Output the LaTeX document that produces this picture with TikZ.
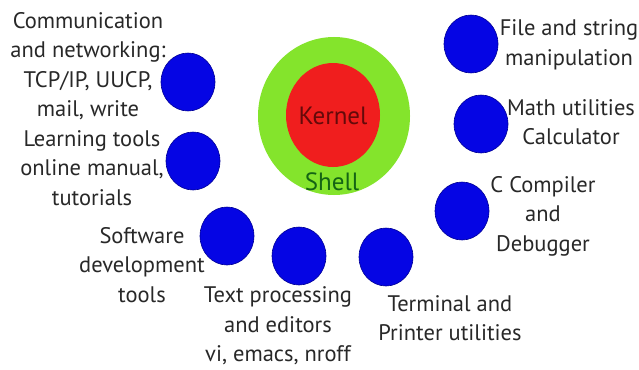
\documentclass[tikz,border=0pt]{standalone}
\usepackage{fontspec}
\setmainfont{PT Sans}
\usetikzlibrary{shapes.geometric}
\definecolor{bluedot}{RGB}{5,5,228}
\definecolor{bluerim}{RGB}{0,0,150}
\definecolor{shellgreen}{RGB}{132,228,44}
\definecolor{kernelred}{RGB}{240,30,30}
\definecolor{txt}{RGB}{40,40,40}
\definecolor{kerneltxt}{RGB}{100,10,10}
\definecolor{shelltxt}{RGB}{20,100,20}
\begin{document}
\begin{tikzpicture}[x=1pt,y=-1pt,
  dot/.style={ellipse,fill=bluedot,draw=bluerim,line width=0.6pt,minimum width=54pt,minimum height=58pt,inner sep=0pt},
  lbl/.style={align=center,text=txt,font=\fontsize{22.5}{29.5}\selectfont,inner sep=0pt}]
\useasboundingbox[fill=white] (0,0) rectangle (639,369);
% shell and kernel
\node[ellipse,fill=shellgreen,minimum width=152pt,minimum height=158pt,inner sep=0pt] (shell) at (334,116) {};
\node[ellipse,fill=kernelred,minimum width=94pt,minimum height=104pt,inner sep=0pt] (kernel) at (333,115) {};
\node[text=kerneltxt,font=\fontsize{25}{28}\selectfont,inner sep=0pt] (kt) at (333,116) {Kernel};
\node[text=shelltxt,font=\fontsize{25}{28}\selectfont,inner sep=0pt] (st) at (332,182) {Shell};
% blue dots
\node[dot] (d1) at (188,82) {};
\node[dot] (d2) at (193,161) {};
\node[dot] (d3) at (227,236) {};
\node[dot] (d4) at (299,256) {};
\node[dot] (d5) at (386,257) {};
\node[dot] (d6) at (462,211) {};
\node[dot] (d7) at (481,124) {};
\node[dot] (d8) at (471,44) {};
% labels
\node[lbl] (t1) at (88,66) {Communication\\and networking:\\TCP/IP, UUCP,\\mail, write};
\node[lbl] (t2) at (92,168) {Learning tools\\online manual,\\tutorials};
\node[lbl] (t3) at (142,265) {Software\\development\\tools};
\node[lbl] (t4) at (278,326) {Text processing\\and editors\\vi, emacs, nroff};
\node[lbl] (t5) at (450,318) {Terminal and\\Printer utilities};
\node[lbl] (t6) at (543,216) {C Compiler\\and\\Debugger};
\node[lbl] (t7) at (571,122) {Math utilities\\Calculator};
\node[lbl] (t8) at (569,45) {File and string\\manipulation};
\end{tikzpicture}
\end{document}
